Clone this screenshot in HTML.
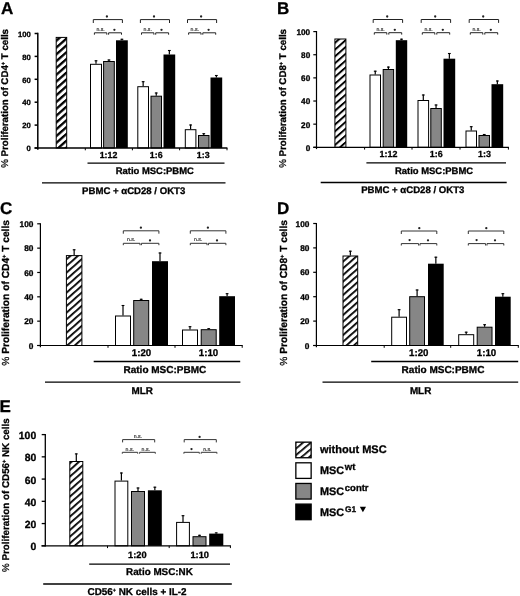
<!DOCTYPE html>
<html><head><meta charset="utf-8"><title>Figure</title>
<style>
html,body{margin:0;padding:0;background:#fff;}
body{width:520px;height:596px;overflow:hidden;font-family:"Liberation Sans",sans-serif;}
svg{display:block;filter:grayscale(1)}
svg text{font-family:"Liberation Sans",sans-serif;text-rendering:geometricPrecision;}
</style></head>
<body>
<svg width="520" height="596" viewBox="0 0 520 596">
<defs>
<pattern id="hA" width="5.1" height="5.1" patternUnits="userSpaceOnUse" patternTransform="translate(56 39.5) rotate(-41.5)">
<rect width="5.1" height="5.1" fill="#fff"/><rect y="0" width="5.1" height="2.3" fill="#000"/>
</pattern>
<pattern id="hL" width="5" height="5" patternUnits="userSpaceOnUse" patternTransform="translate(295.56 447.79) rotate(-40)">
<rect width="5" height="5" fill="#fff"/><rect y="0" width="5" height="1.7" fill="#000"/>
</pattern>
<pattern id="hA2" width="5.1" height="5.1" patternUnits="userSpaceOnUse" patternTransform="translate(334.37 48.89) rotate(-41.5)">
<rect width="5.1" height="5.1" fill="#fff"/><rect y="0" width="5.1" height="1.95" fill="#000"/>
</pattern>
<pattern id="hB" width="5" height="5" patternUnits="userSpaceOnUse" patternTransform="translate(66 258.5) rotate(-41.5)">
<rect width="5" height="5" fill="#fff"/><rect y="0" width="5" height="1.8" fill="#000"/>
</pattern>
</defs>
<rect width="520" height="596" fill="#fff"/>
<line x1="37.80" y1="32.75" x2="37.80" y2="149.80" stroke="#000" stroke-width="1.5"/>
<line x1="34.60" y1="148.00" x2="37.80" y2="148.00" stroke="#000" stroke-width="1.5"/>
<text x="30.90" y="151.26" font-size="7.7" text-anchor="end" font-weight="bold" fill="#000"  stroke="#000" stroke-width="0.3">0</text>
<line x1="34.60" y1="125.10" x2="37.80" y2="125.10" stroke="#000" stroke-width="1.5"/>
<text x="30.90" y="128.36" font-size="7.7" text-anchor="end" font-weight="bold" fill="#000"  stroke="#000" stroke-width="0.3">20</text>
<line x1="34.60" y1="102.20" x2="37.80" y2="102.20" stroke="#000" stroke-width="1.5"/>
<text x="30.90" y="105.46" font-size="7.7" text-anchor="end" font-weight="bold" fill="#000"  stroke="#000" stroke-width="0.3">40</text>
<line x1="34.60" y1="79.30" x2="37.80" y2="79.30" stroke="#000" stroke-width="1.5"/>
<text x="30.90" y="82.56" font-size="7.7" text-anchor="end" font-weight="bold" fill="#000"  stroke="#000" stroke-width="0.3">60</text>
<line x1="34.60" y1="56.40" x2="37.80" y2="56.40" stroke="#000" stroke-width="1.5"/>
<text x="30.90" y="59.66" font-size="7.7" text-anchor="end" font-weight="bold" fill="#000"  stroke="#000" stroke-width="0.3">80</text>
<line x1="34.60" y1="33.50" x2="37.80" y2="33.50" stroke="#000" stroke-width="1.5"/>
<text x="30.90" y="36.76" font-size="7.7" text-anchor="end" font-weight="bold" fill="#000"  stroke="#000" stroke-width="0.3">100</text>
<rect x="56.20" y="37.40" width="10.50" height="110.60" fill="url(#hA)" stroke="#000" stroke-width="1"/>
<rect x="90.50" y="64.30" width="11.00" height="83.70" fill="#fff" stroke="#000" stroke-width="1"/>
<line x1="96.00" y1="63.80" x2="96.00" y2="60.30" stroke="#000" stroke-width="1.2"/>
<line x1="94.60" y1="60.80" x2="97.40" y2="60.80" stroke="#000" stroke-width="1.1"/>
<rect x="103.60" y="61.50" width="10.70" height="86.50" fill="#868686" stroke="#000" stroke-width="1"/>
<line x1="108.95" y1="61.00" x2="108.95" y2="59.50" stroke="#000" stroke-width="1.2"/>
<line x1="107.55" y1="60.00" x2="110.35" y2="60.00" stroke="#000" stroke-width="1.1"/>
<rect x="116.00" y="40.30" width="11.80" height="107.70" fill="#000"/>
<line x1="121.90" y1="40.30" x2="121.90" y2="38.80" stroke="#000" stroke-width="1.2"/>
<line x1="120.50" y1="39.30" x2="123.30" y2="39.30" stroke="#000" stroke-width="1.1"/>
<rect x="137.80" y="86.70" width="10.70" height="61.30" fill="#fff" stroke="#000" stroke-width="1"/>
<line x1="143.15" y1="86.20" x2="143.15" y2="81.20" stroke="#000" stroke-width="1.2"/>
<line x1="141.75" y1="81.70" x2="144.55" y2="81.70" stroke="#000" stroke-width="1.1"/>
<rect x="151.00" y="96.20" width="10.50" height="51.80" fill="#868686" stroke="#000" stroke-width="1"/>
<line x1="156.25" y1="95.70" x2="156.25" y2="92.50" stroke="#000" stroke-width="1.2"/>
<line x1="154.85" y1="93.00" x2="157.65" y2="93.00" stroke="#000" stroke-width="1.1"/>
<rect x="163.50" y="54.50" width="11.70" height="93.50" fill="#000"/>
<line x1="169.35" y1="54.50" x2="169.35" y2="50.00" stroke="#000" stroke-width="1.2"/>
<line x1="167.95" y1="50.50" x2="170.75" y2="50.50" stroke="#000" stroke-width="1.1"/>
<rect x="185.30" y="129.70" width="10.60" height="18.30" fill="#fff" stroke="#000" stroke-width="1"/>
<line x1="190.60" y1="129.20" x2="190.60" y2="124.50" stroke="#000" stroke-width="1.2"/>
<line x1="189.20" y1="125.00" x2="192.00" y2="125.00" stroke="#000" stroke-width="1.1"/>
<rect x="198.50" y="135.50" width="10.50" height="12.50" fill="#868686" stroke="#000" stroke-width="1"/>
<line x1="203.75" y1="135.00" x2="203.75" y2="133.20" stroke="#000" stroke-width="1.2"/>
<line x1="202.35" y1="133.70" x2="205.15" y2="133.70" stroke="#000" stroke-width="1.1"/>
<rect x="210.50" y="77.50" width="11.70" height="70.50" fill="#000"/>
<line x1="216.35" y1="77.50" x2="216.35" y2="75.00" stroke="#000" stroke-width="1.2"/>
<line x1="214.95" y1="75.50" x2="217.75" y2="75.50" stroke="#000" stroke-width="1.1"/>
<line x1="34.60" y1="148.00" x2="227.40" y2="148.00" stroke="#000" stroke-width="1.5"/>
<line x1="85.30" y1="148.00" x2="85.30" y2="150.30" stroke="#000" stroke-width="1.0"/>
<line x1="132.40" y1="148.00" x2="132.40" y2="150.30" stroke="#000" stroke-width="1.0"/>
<line x1="179.60" y1="148.00" x2="179.60" y2="150.30" stroke="#000" stroke-width="1.0"/>
<line x1="227.00" y1="148.00" x2="227.00" y2="150.30" stroke="#000" stroke-width="1.0"/>
<text x="108.50" y="157.80" font-size="8.8" text-anchor="middle" font-weight="bold" fill="#000"  stroke="#000" stroke-width="0.3">1:12</text>
<text x="156.20" y="157.80" font-size="8.8" text-anchor="middle" font-weight="bold" fill="#000"  stroke="#000" stroke-width="0.3">1:6</text>
<text x="203.20" y="157.80" font-size="8.8" text-anchor="middle" font-weight="bold" fill="#000"  stroke="#000" stroke-width="0.3">1:3</text>
<line x1="87.50" y1="163.10" x2="224.50" y2="163.10" stroke="#000" stroke-width="1.3"/>
<text x="154.80" y="173.80" font-size="9.45" text-anchor="middle" font-weight="bold" fill="#000"  stroke="#000" stroke-width="0.3">Ratio MSC:PBMC</text>
<line x1="42.00" y1="182.90" x2="225.50" y2="182.90" stroke="#000" stroke-width="1.3"/>
<text x="133.70" y="193.80" font-size="9.6" text-anchor="middle" font-weight="bold" fill="#000"  stroke="#000" stroke-width="0.3">PBMC + αCD28 / OKT3</text>
<text x="0.90" y="14.40" font-size="17" font-weight="bold" stroke="#000" stroke-width="0.3" stroke-linejoin="round">A</text>
<text transform="translate(7.90,167.80) rotate(-90)" font-size="9.72" font-weight="bold" text-anchor="start" stroke="#000" stroke-width="0.3"><tspan font-weight="normal" stroke-width="0.25">%</tspan> Proliferation of CD4<tspan font-size="5.5" dy="-3">+</tspan><tspan dy="3"> T cells</tspan></text>
<path d="M93.30 23.00 V19.60 H122.40 V23.00" fill="none" stroke="#222" stroke-width="1.0"/>
<circle cx="106.90" cy="16.50" r="1.15" fill="#222"/>
<path d="M94.40 34.70 V32.80 H106.80 V34.70" fill="none" stroke="#222" stroke-width="1.0"/>
<path d="M108.60 34.70 V32.80 H121.50 V34.70" fill="none" stroke="#222" stroke-width="1.0"/>
<text x="100.60" y="30.60" font-size="5.2" text-anchor="middle" font-weight="normal" fill="#222" stroke="#222" stroke-width="0.15">n.s.</text>
<circle cx="114.40" cy="29.80" r="1.15" fill="#222"/>
<path d="M140.40 23.00 V19.60 H169.50 V23.00" fill="none" stroke="#222" stroke-width="1.0"/>
<circle cx="154.00" cy="16.50" r="1.15" fill="#222"/>
<path d="M141.50 34.70 V32.80 H153.90 V34.70" fill="none" stroke="#222" stroke-width="1.0"/>
<path d="M155.70 34.70 V32.80 H168.60 V34.70" fill="none" stroke="#222" stroke-width="1.0"/>
<text x="147.70" y="30.60" font-size="5.2" text-anchor="middle" font-weight="normal" fill="#222" stroke="#222" stroke-width="0.15">n.s.</text>
<circle cx="161.50" cy="29.80" r="1.15" fill="#222"/>
<path d="M187.50 23.00 V19.60 H216.60 V23.00" fill="none" stroke="#222" stroke-width="1.0"/>
<circle cx="201.10" cy="16.50" r="1.15" fill="#222"/>
<path d="M188.60 34.70 V32.80 H201.00 V34.70" fill="none" stroke="#222" stroke-width="1.0"/>
<path d="M202.80 34.70 V32.80 H215.70 V34.70" fill="none" stroke="#222" stroke-width="1.0"/>
<text x="194.80" y="30.60" font-size="5.2" text-anchor="middle" font-weight="normal" fill="#222" stroke="#222" stroke-width="0.15">n.s.</text>
<circle cx="208.60" cy="29.80" r="1.15" fill="#222"/>
<line x1="316.50" y1="31.00" x2="316.50" y2="149.10" stroke="#000" stroke-width="1.2"/>
<line x1="313.30" y1="147.30" x2="316.50" y2="147.30" stroke="#000" stroke-width="1.2"/>
<text x="310.20" y="150.74" font-size="8.2" text-anchor="end" font-weight="bold" fill="#000"  stroke="#000" stroke-width="0.3">0</text>
<line x1="313.30" y1="124.16" x2="316.50" y2="124.16" stroke="#000" stroke-width="1.2"/>
<text x="310.20" y="127.60" font-size="8.2" text-anchor="end" font-weight="bold" fill="#000"  stroke="#000" stroke-width="0.3">20</text>
<line x1="313.30" y1="101.02" x2="316.50" y2="101.02" stroke="#000" stroke-width="1.2"/>
<text x="310.20" y="104.46" font-size="8.2" text-anchor="end" font-weight="bold" fill="#000"  stroke="#000" stroke-width="0.3">40</text>
<line x1="313.30" y1="77.88" x2="316.50" y2="77.88" stroke="#000" stroke-width="1.2"/>
<text x="310.20" y="81.32" font-size="8.2" text-anchor="end" font-weight="bold" fill="#000"  stroke="#000" stroke-width="0.3">60</text>
<line x1="313.30" y1="54.74" x2="316.50" y2="54.74" stroke="#000" stroke-width="1.2"/>
<text x="310.20" y="58.18" font-size="8.2" text-anchor="end" font-weight="bold" fill="#000"  stroke="#000" stroke-width="0.3">80</text>
<line x1="313.30" y1="31.60" x2="316.50" y2="31.60" stroke="#000" stroke-width="1.2"/>
<text x="310.20" y="35.04" font-size="8.2" text-anchor="end" font-weight="bold" fill="#000"  stroke="#000" stroke-width="0.3">100</text>
<rect x="334.90" y="39.00" width="11.00" height="108.30" fill="url(#hA2)" stroke="#000" stroke-width="1"/>
<rect x="370.00" y="75.00" width="10.50" height="72.30" fill="#fff" stroke="#000" stroke-width="1"/>
<line x1="375.25" y1="74.50" x2="375.25" y2="70.70" stroke="#000" stroke-width="1.2"/>
<line x1="373.85" y1="71.20" x2="376.65" y2="71.20" stroke="#000" stroke-width="1.1"/>
<rect x="383.20" y="69.50" width="10.40" height="77.80" fill="#868686" stroke="#000" stroke-width="1"/>
<line x1="388.40" y1="69.00" x2="388.40" y2="66.60" stroke="#000" stroke-width="1.2"/>
<line x1="387.00" y1="67.10" x2="389.80" y2="67.10" stroke="#000" stroke-width="1.1"/>
<rect x="395.80" y="40.20" width="11.40" height="107.10" fill="#000"/>
<line x1="401.50" y1="40.20" x2="401.50" y2="38.70" stroke="#000" stroke-width="1.2"/>
<line x1="400.10" y1="39.20" x2="402.90" y2="39.20" stroke="#000" stroke-width="1.1"/>
<rect x="418.00" y="100.50" width="10.60" height="46.80" fill="#fff" stroke="#000" stroke-width="1"/>
<line x1="423.30" y1="100.00" x2="423.30" y2="94.50" stroke="#000" stroke-width="1.2"/>
<line x1="421.90" y1="95.00" x2="424.70" y2="95.00" stroke="#000" stroke-width="1.1"/>
<rect x="430.80" y="108.50" width="10.50" height="38.80" fill="#868686" stroke="#000" stroke-width="1"/>
<line x1="436.05" y1="108.00" x2="436.05" y2="104.50" stroke="#000" stroke-width="1.2"/>
<line x1="434.65" y1="105.00" x2="437.45" y2="105.00" stroke="#000" stroke-width="1.1"/>
<rect x="443.50" y="58.70" width="11.70" height="88.60" fill="#000"/>
<line x1="449.35" y1="58.70" x2="449.35" y2="53.00" stroke="#000" stroke-width="1.2"/>
<line x1="447.95" y1="53.50" x2="450.75" y2="53.50" stroke="#000" stroke-width="1.1"/>
<rect x="466.00" y="131.00" width="10.50" height="16.30" fill="#fff" stroke="#000" stroke-width="1"/>
<line x1="471.25" y1="130.50" x2="471.25" y2="126.20" stroke="#000" stroke-width="1.2"/>
<line x1="469.85" y1="126.70" x2="472.65" y2="126.70" stroke="#000" stroke-width="1.1"/>
<rect x="479.00" y="135.50" width="10.50" height="11.80" fill="#868686" stroke="#000" stroke-width="1"/>
<line x1="484.25" y1="135.00" x2="484.25" y2="134.00" stroke="#000" stroke-width="1.2"/>
<line x1="482.85" y1="134.50" x2="485.65" y2="134.50" stroke="#000" stroke-width="1.1"/>
<rect x="491.50" y="84.20" width="11.70" height="63.10" fill="#000"/>
<line x1="497.35" y1="84.20" x2="497.35" y2="80.50" stroke="#000" stroke-width="1.2"/>
<line x1="495.95" y1="81.00" x2="498.75" y2="81.00" stroke="#000" stroke-width="1.1"/>
<line x1="313.30" y1="147.30" x2="508.90" y2="147.30" stroke="#000" stroke-width="1.2"/>
<line x1="364.60" y1="147.30" x2="364.60" y2="149.60" stroke="#000" stroke-width="1.0"/>
<line x1="412.00" y1="147.30" x2="412.00" y2="149.60" stroke="#000" stroke-width="1.0"/>
<line x1="460.00" y1="147.30" x2="460.00" y2="149.60" stroke="#000" stroke-width="1.0"/>
<line x1="508.40" y1="147.30" x2="508.40" y2="149.60" stroke="#000" stroke-width="1.0"/>
<text x="388.50" y="156.90" font-size="8.9" text-anchor="middle" font-weight="bold" fill="#000"  stroke="#000" stroke-width="0.3">1:12</text>
<text x="436.20" y="156.90" font-size="8.9" text-anchor="middle" font-weight="bold" fill="#000"  stroke="#000" stroke-width="0.3">1:6</text>
<text x="484.50" y="156.90" font-size="8.9" text-anchor="middle" font-weight="bold" fill="#000"  stroke="#000" stroke-width="0.3">1:3</text>
<line x1="366.40" y1="162.90" x2="506.00" y2="162.90" stroke="#000" stroke-width="1.3"/>
<text x="434.00" y="173.50" font-size="9.45" text-anchor="middle" font-weight="bold" fill="#000"  stroke="#000" stroke-width="0.3">Ratio MSC:PBMC</text>
<line x1="320.70" y1="182.50" x2="506.70" y2="182.50" stroke="#000" stroke-width="1.3"/>
<text x="412.80" y="193.20" font-size="9.6" text-anchor="middle" font-weight="bold" fill="#000"  stroke="#000" stroke-width="0.3">PBMC + αCD28 / OKT3</text>
<text x="277.10" y="14.40" font-size="17" font-weight="bold" stroke="#000" stroke-width="0.3" stroke-linejoin="round">B</text>
<text transform="translate(286.10,167.80) rotate(-90)" font-size="9.72" font-weight="bold" text-anchor="start" stroke="#000" stroke-width="0.3"><tspan font-weight="normal" stroke-width="0.25">%</tspan> Proliferation of CD8<tspan font-size="5.5" dy="-3">+</tspan><tspan dy="3"> T cells</tspan></text>
<path d="M373.20 22.90 V19.50 H402.60 V22.90" fill="none" stroke="#222" stroke-width="1.0"/>
<circle cx="387.20" cy="16.50" r="1.15" fill="#222"/>
<path d="M374.30 34.60 V32.70 H386.80 V34.60" fill="none" stroke="#222" stroke-width="1.0"/>
<path d="M388.80 34.60 V32.70 H401.70 V34.60" fill="none" stroke="#222" stroke-width="1.0"/>
<text x="380.60" y="30.60" font-size="5.2" text-anchor="middle" font-weight="normal" fill="#222" stroke="#222" stroke-width="0.15">n.s.</text>
<circle cx="394.80" cy="29.80" r="1.15" fill="#222"/>
<path d="M421.20 22.90 V19.50 H450.60 V22.90" fill="none" stroke="#222" stroke-width="1.0"/>
<circle cx="435.20" cy="16.50" r="1.15" fill="#222"/>
<path d="M422.30 34.60 V32.70 H434.80 V34.60" fill="none" stroke="#222" stroke-width="1.0"/>
<path d="M436.80 34.60 V32.70 H449.70 V34.60" fill="none" stroke="#222" stroke-width="1.0"/>
<text x="428.60" y="30.60" font-size="5.2" text-anchor="middle" font-weight="normal" fill="#222" stroke="#222" stroke-width="0.15">n.s.</text>
<circle cx="442.80" cy="29.80" r="1.15" fill="#222"/>
<path d="M469.20 22.90 V19.50 H498.60 V22.90" fill="none" stroke="#222" stroke-width="1.0"/>
<circle cx="483.20" cy="16.50" r="1.15" fill="#222"/>
<path d="M470.30 34.60 V32.70 H482.80 V34.60" fill="none" stroke="#222" stroke-width="1.0"/>
<path d="M484.80 34.60 V32.70 H497.70 V34.60" fill="none" stroke="#222" stroke-width="1.0"/>
<text x="476.60" y="30.60" font-size="5.2" text-anchor="middle" font-weight="normal" fill="#222" stroke="#222" stroke-width="0.15">n.s.</text>
<circle cx="490.80" cy="29.80" r="1.15" fill="#222"/>
<line x1="40.40" y1="223.20" x2="40.40" y2="347.30" stroke="#000" stroke-width="1.2"/>
<line x1="37.20" y1="345.50" x2="40.40" y2="345.50" stroke="#000" stroke-width="1.2"/>
<text x="33.40" y="348.67" font-size="8.3" text-anchor="end" font-weight="bold" fill="#000"  stroke="#000" stroke-width="0.3">0</text>
<line x1="37.20" y1="321.16" x2="40.40" y2="321.16" stroke="#000" stroke-width="1.2"/>
<text x="33.40" y="324.33" font-size="8.3" text-anchor="end" font-weight="bold" fill="#000"  stroke="#000" stroke-width="0.3">20</text>
<line x1="37.20" y1="296.82" x2="40.40" y2="296.82" stroke="#000" stroke-width="1.2"/>
<text x="33.40" y="299.99" font-size="8.3" text-anchor="end" font-weight="bold" fill="#000"  stroke="#000" stroke-width="0.3">40</text>
<line x1="37.20" y1="272.48" x2="40.40" y2="272.48" stroke="#000" stroke-width="1.2"/>
<text x="33.40" y="275.65" font-size="8.3" text-anchor="end" font-weight="bold" fill="#000"  stroke="#000" stroke-width="0.3">60</text>
<line x1="37.20" y1="248.14" x2="40.40" y2="248.14" stroke="#000" stroke-width="1.2"/>
<text x="33.40" y="251.31" font-size="8.3" text-anchor="end" font-weight="bold" fill="#000"  stroke="#000" stroke-width="0.3">80</text>
<line x1="37.20" y1="223.80" x2="40.40" y2="223.80" stroke="#000" stroke-width="1.2"/>
<text x="33.40" y="226.97" font-size="8.3" text-anchor="end" font-weight="bold" fill="#000"  stroke="#000" stroke-width="0.3">100</text>
<rect x="66.40" y="255.60" width="15.50" height="89.90" fill="url(#hB)" stroke="#000" stroke-width="1"/>
<line x1="74.15" y1="255.10" x2="74.15" y2="249.30" stroke="#000" stroke-width="1.2"/>
<line x1="72.75" y1="249.80" x2="75.55" y2="249.80" stroke="#000" stroke-width="1.1"/>
<rect x="115.50" y="316.00" width="15.00" height="29.50" fill="#fff" stroke="#000" stroke-width="1"/>
<line x1="123.00" y1="315.50" x2="123.00" y2="305.00" stroke="#000" stroke-width="1.2"/>
<line x1="121.60" y1="305.50" x2="124.40" y2="305.50" stroke="#000" stroke-width="1.1"/>
<rect x="133.70" y="300.50" width="15.00" height="45.00" fill="#868686" stroke="#000" stroke-width="1"/>
<line x1="141.20" y1="300.00" x2="141.20" y2="298.80" stroke="#000" stroke-width="1.2"/>
<line x1="139.80" y1="299.30" x2="142.60" y2="299.30" stroke="#000" stroke-width="1.1"/>
<rect x="152.00" y="261.20" width="16.00" height="84.30" fill="#000"/>
<line x1="160.00" y1="261.20" x2="160.00" y2="252.50" stroke="#000" stroke-width="1.2"/>
<line x1="158.60" y1="253.00" x2="161.40" y2="253.00" stroke="#000" stroke-width="1.1"/>
<rect x="182.50" y="330.00" width="15.00" height="15.50" fill="#fff" stroke="#000" stroke-width="1"/>
<line x1="190.00" y1="329.50" x2="190.00" y2="326.20" stroke="#000" stroke-width="1.2"/>
<line x1="188.60" y1="326.70" x2="191.40" y2="326.70" stroke="#000" stroke-width="1.1"/>
<rect x="201.20" y="329.70" width="15.00" height="15.80" fill="#868686" stroke="#000" stroke-width="1"/>
<line x1="208.70" y1="329.20" x2="208.70" y2="328.20" stroke="#000" stroke-width="1.2"/>
<line x1="207.30" y1="328.70" x2="210.10" y2="328.70" stroke="#000" stroke-width="1.1"/>
<rect x="219.20" y="296.20" width="15.80" height="49.30" fill="#000"/>
<line x1="227.10" y1="296.20" x2="227.10" y2="293.20" stroke="#000" stroke-width="1.2"/>
<line x1="225.70" y1="293.70" x2="228.50" y2="293.70" stroke="#000" stroke-width="1.1"/>
<line x1="37.20" y1="345.50" x2="242.70" y2="345.50" stroke="#000" stroke-width="1.2"/>
<line x1="108.00" y1="345.50" x2="108.00" y2="347.80" stroke="#000" stroke-width="1.0"/>
<line x1="175.00" y1="345.50" x2="175.00" y2="347.80" stroke="#000" stroke-width="1.0"/>
<line x1="242.20" y1="345.50" x2="242.20" y2="347.80" stroke="#000" stroke-width="1.0"/>
<text x="141.50" y="355.50" font-size="9.7" text-anchor="middle" font-weight="bold" fill="#000"  stroke="#000" stroke-width="0.3">1:20</text>
<text x="208.50" y="355.50" font-size="9.7" text-anchor="middle" font-weight="bold" fill="#000"  stroke="#000" stroke-width="0.3">1:10</text>
<line x1="93.70" y1="361.50" x2="240.20" y2="361.50" stroke="#000" stroke-width="1.3"/>
<text x="164.90" y="372.70" font-size="10.0" text-anchor="middle" font-weight="bold" fill="#000"  stroke="#000" stroke-width="0.3">Ratio MSC:PBMC</text>
<line x1="45.00" y1="382.20" x2="240.40" y2="382.20" stroke="#000" stroke-width="1.3"/>
<text x="142.20" y="393.80" font-size="9.9" text-anchor="middle" font-weight="bold" fill="#000"  stroke="#000" stroke-width="0.3">MLR</text>
<text x="0.10" y="214.40" font-size="17" font-weight="bold" stroke="#000" stroke-width="0.3" stroke-linejoin="round">C</text>
<text transform="translate(8.80,365.80) rotate(-90)" font-size="10.22" font-weight="bold" text-anchor="start" stroke="#000" stroke-width="0.3"><tspan font-weight="normal" stroke-width="0.25">%</tspan> Proliferation of CD4<tspan font-size="5.5" dy="-3">+</tspan><tspan dy="3"> T cells</tspan></text>
<path d="M190.30 233.70 V230.80 H225.90 V233.70" fill="none" stroke="#333" stroke-width="1.0"/>
<circle cx="207.90" cy="227.70" r="1.15" fill="#222"/>
<path d="M190.30 245.20 V243.30 H207.00 V245.20" fill="none" stroke="#333" stroke-width="1.0"/>
<path d="M208.40 245.20 V243.30 H225.90 V245.20" fill="none" stroke="#333" stroke-width="1.0"/>
<text x="198.20" y="241.20" font-size="5.2" text-anchor="middle" font-weight="normal" fill="#222" stroke="#222" stroke-width="0.15">n.s.</text>
<circle cx="217.00" cy="240.40" r="1.15" fill="#222"/>
<path d="M123.30 233.70 V230.80 H158.90 V233.70" fill="none" stroke="#333" stroke-width="1.0"/>
<circle cx="140.90" cy="227.70" r="1.15" fill="#222"/>
<path d="M123.30 245.20 V243.30 H140.00 V245.20" fill="none" stroke="#333" stroke-width="1.0"/>
<path d="M141.40 245.20 V243.30 H158.90 V245.20" fill="none" stroke="#333" stroke-width="1.0"/>
<text x="131.20" y="241.20" font-size="5.2" text-anchor="middle" font-weight="normal" fill="#222" stroke="#222" stroke-width="0.15">n.s.</text>
<circle cx="150.00" cy="240.40" r="1.15" fill="#222"/>
<line x1="316.40" y1="222.90" x2="316.40" y2="347.30" stroke="#000" stroke-width="1.2"/>
<line x1="313.20" y1="345.50" x2="316.40" y2="345.50" stroke="#000" stroke-width="1.2"/>
<text x="309.40" y="348.67" font-size="8.3" text-anchor="end" font-weight="bold" fill="#000"  stroke="#000" stroke-width="0.3">0</text>
<line x1="313.20" y1="321.10" x2="316.40" y2="321.10" stroke="#000" stroke-width="1.2"/>
<text x="309.40" y="324.27" font-size="8.3" text-anchor="end" font-weight="bold" fill="#000"  stroke="#000" stroke-width="0.3">20</text>
<line x1="313.20" y1="296.70" x2="316.40" y2="296.70" stroke="#000" stroke-width="1.2"/>
<text x="309.40" y="299.87" font-size="8.3" text-anchor="end" font-weight="bold" fill="#000"  stroke="#000" stroke-width="0.3">40</text>
<line x1="313.20" y1="272.30" x2="316.40" y2="272.30" stroke="#000" stroke-width="1.2"/>
<text x="309.40" y="275.47" font-size="8.3" text-anchor="end" font-weight="bold" fill="#000"  stroke="#000" stroke-width="0.3">60</text>
<line x1="313.20" y1="247.90" x2="316.40" y2="247.90" stroke="#000" stroke-width="1.2"/>
<text x="309.40" y="251.07" font-size="8.3" text-anchor="end" font-weight="bold" fill="#000"  stroke="#000" stroke-width="0.3">80</text>
<line x1="313.20" y1="223.50" x2="316.40" y2="223.50" stroke="#000" stroke-width="1.2"/>
<text x="309.40" y="226.67" font-size="8.3" text-anchor="end" font-weight="bold" fill="#000"  stroke="#000" stroke-width="0.3">100</text>
<rect x="343.00" y="256.00" width="14.70" height="89.50" fill="url(#hB)" stroke="#000" stroke-width="1"/>
<line x1="350.35" y1="255.50" x2="350.35" y2="250.70" stroke="#000" stroke-width="1.2"/>
<line x1="348.95" y1="251.20" x2="351.75" y2="251.20" stroke="#000" stroke-width="1.1"/>
<rect x="391.70" y="317.20" width="14.80" height="28.30" fill="#fff" stroke="#000" stroke-width="1"/>
<line x1="399.10" y1="316.70" x2="399.10" y2="309.20" stroke="#000" stroke-width="1.2"/>
<line x1="397.70" y1="309.70" x2="400.50" y2="309.70" stroke="#000" stroke-width="1.1"/>
<rect x="409.70" y="296.70" width="14.80" height="48.80" fill="#868686" stroke="#000" stroke-width="1"/>
<line x1="417.10" y1="296.20" x2="417.10" y2="289.50" stroke="#000" stroke-width="1.2"/>
<line x1="415.70" y1="290.00" x2="418.50" y2="290.00" stroke="#000" stroke-width="1.1"/>
<rect x="428.00" y="263.70" width="15.70" height="81.80" fill="#000"/>
<line x1="435.85" y1="263.70" x2="435.85" y2="256.70" stroke="#000" stroke-width="1.2"/>
<line x1="434.45" y1="257.20" x2="437.25" y2="257.20" stroke="#000" stroke-width="1.1"/>
<rect x="458.70" y="334.70" width="15.00" height="10.80" fill="#fff" stroke="#000" stroke-width="1"/>
<line x1="466.20" y1="334.20" x2="466.20" y2="331.70" stroke="#000" stroke-width="1.2"/>
<line x1="464.80" y1="332.20" x2="467.60" y2="332.20" stroke="#000" stroke-width="1.1"/>
<rect x="477.20" y="327.20" width="14.80" height="18.30" fill="#868686" stroke="#000" stroke-width="1"/>
<line x1="484.60" y1="326.70" x2="484.60" y2="324.20" stroke="#000" stroke-width="1.2"/>
<line x1="483.20" y1="324.70" x2="486.00" y2="324.70" stroke="#000" stroke-width="1.1"/>
<rect x="495.00" y="296.70" width="15.70" height="48.80" fill="#000"/>
<line x1="502.85" y1="296.70" x2="502.85" y2="293.20" stroke="#000" stroke-width="1.2"/>
<line x1="501.45" y1="293.70" x2="504.25" y2="293.70" stroke="#000" stroke-width="1.1"/>
<line x1="313.20" y1="345.50" x2="518.80" y2="345.50" stroke="#000" stroke-width="1.2"/>
<line x1="384.20" y1="345.50" x2="384.20" y2="347.80" stroke="#000" stroke-width="1.0"/>
<line x1="450.70" y1="345.50" x2="450.70" y2="347.80" stroke="#000" stroke-width="1.0"/>
<line x1="518.30" y1="345.50" x2="518.30" y2="347.80" stroke="#000" stroke-width="1.0"/>
<text x="418.80" y="355.50" font-size="9.7" text-anchor="middle" font-weight="bold" fill="#000"  stroke="#000" stroke-width="0.3">1:20</text>
<text x="486.50" y="355.50" font-size="9.7" text-anchor="middle" font-weight="bold" fill="#000"  stroke="#000" stroke-width="0.3">1:10</text>
<line x1="371.20" y1="361.50" x2="518.20" y2="361.50" stroke="#000" stroke-width="1.3"/>
<text x="443.00" y="372.70" font-size="10.0" text-anchor="middle" font-weight="bold" fill="#000"  stroke="#000" stroke-width="0.3">Ratio MSC:PBMC</text>
<line x1="322.50" y1="382.20" x2="518.20" y2="382.20" stroke="#000" stroke-width="1.3"/>
<text x="420.60" y="393.80" font-size="9.9" text-anchor="middle" font-weight="bold" fill="#000"  stroke="#000" stroke-width="0.3">MLR</text>
<text x="276.90" y="214.00" font-size="17" font-weight="bold" stroke="#000" stroke-width="0.3" stroke-linejoin="round">D</text>
<text transform="translate(287.00,365.80) rotate(-90)" font-size="10.22" font-weight="bold" text-anchor="start" stroke="#000" stroke-width="0.3"><tspan font-weight="normal" stroke-width="0.25">%</tspan> Proliferation of CD8<tspan font-size="5.5" dy="-3">+</tspan><tspan dy="3"> T cells</tspan></text>
<path d="M401.30 234.00 V231.00 H436.80 V234.00" fill="none" stroke="#333" stroke-width="1.0"/>
<circle cx="419.30" cy="228.20" r="1.15" fill="#222"/>
<path d="M401.30 245.50 V243.60 H418.60 V245.50" fill="none" stroke="#333" stroke-width="1.0"/>
<path d="M420.00 245.50 V243.60 H436.80 V245.50" fill="none" stroke="#333" stroke-width="1.0"/>
<circle cx="409.60" cy="240.10" r="1.15" fill="#222"/>
<circle cx="428.00" cy="240.30" r="1.15" fill="#222"/>
<path d="M468.30 234.00 V231.00 H503.80 V234.00" fill="none" stroke="#333" stroke-width="1.0"/>
<circle cx="486.30" cy="228.20" r="1.15" fill="#222"/>
<path d="M468.30 245.50 V243.60 H485.60 V245.50" fill="none" stroke="#333" stroke-width="1.0"/>
<path d="M487.00 245.50 V243.60 H503.80 V245.50" fill="none" stroke="#333" stroke-width="1.0"/>
<circle cx="476.60" cy="240.10" r="1.15" fill="#222"/>
<circle cx="495.00" cy="240.30" r="1.15" fill="#222"/>
<line x1="45.30" y1="433.95" x2="45.30" y2="546.40" stroke="#000" stroke-width="1.3"/>
<line x1="41.70" y1="545.80" x2="45.30" y2="545.80" stroke="#000" stroke-width="1.3"/>
<text x="36.20" y="550.32" font-size="10.4" text-anchor="end" font-weight="bold" fill="#000"  stroke="#000" stroke-width="0.3">0</text>
<line x1="41.70" y1="523.56" x2="45.30" y2="523.56" stroke="#000" stroke-width="1.3"/>
<text x="36.20" y="528.08" font-size="10.4" text-anchor="end" font-weight="bold" fill="#000"  stroke="#000" stroke-width="0.3">20</text>
<line x1="41.70" y1="501.32" x2="45.30" y2="501.32" stroke="#000" stroke-width="1.3"/>
<text x="36.20" y="505.84" font-size="10.4" text-anchor="end" font-weight="bold" fill="#000"  stroke="#000" stroke-width="0.3">40</text>
<line x1="41.70" y1="479.08" x2="45.30" y2="479.08" stroke="#000" stroke-width="1.3"/>
<text x="36.20" y="483.60" font-size="10.4" text-anchor="end" font-weight="bold" fill="#000"  stroke="#000" stroke-width="0.3">60</text>
<line x1="41.70" y1="456.84" x2="45.30" y2="456.84" stroke="#000" stroke-width="1.3"/>
<text x="36.20" y="461.36" font-size="10.4" text-anchor="end" font-weight="bold" fill="#000"  stroke="#000" stroke-width="0.3">80</text>
<line x1="41.70" y1="434.60" x2="45.30" y2="434.60" stroke="#000" stroke-width="1.3"/>
<text x="36.20" y="439.12" font-size="10.4" text-anchor="end" font-weight="bold" fill="#000"  stroke="#000" stroke-width="0.3">100</text>
<rect x="69.80" y="461.50" width="13.00" height="84.30" fill="url(#hB)" stroke="#000" stroke-width="1"/>
<line x1="76.30" y1="461.00" x2="76.30" y2="453.40" stroke="#000" stroke-width="1.2"/>
<line x1="74.90" y1="453.90" x2="77.70" y2="453.90" stroke="#000" stroke-width="1.1"/>
<rect x="115.00" y="481.10" width="12.80" height="64.70" fill="#fff" stroke="#000" stroke-width="1"/>
<line x1="121.40" y1="480.60" x2="121.40" y2="472.50" stroke="#000" stroke-width="1.2"/>
<line x1="120.00" y1="473.00" x2="122.80" y2="473.00" stroke="#000" stroke-width="1.1"/>
<rect x="131.50" y="491.50" width="13.00" height="54.30" fill="#868686" stroke="#000" stroke-width="1"/>
<line x1="138.00" y1="491.00" x2="138.00" y2="487.50" stroke="#000" stroke-width="1.2"/>
<line x1="136.60" y1="488.00" x2="139.40" y2="488.00" stroke="#000" stroke-width="1.1"/>
<rect x="147.90" y="490.30" width="13.90" height="55.50" fill="#000"/>
<line x1="154.85" y1="490.30" x2="154.85" y2="486.70" stroke="#000" stroke-width="1.2"/>
<line x1="153.45" y1="487.20" x2="156.25" y2="487.20" stroke="#000" stroke-width="1.1"/>
<rect x="176.60" y="522.40" width="12.80" height="23.40" fill="#fff" stroke="#000" stroke-width="1"/>
<line x1="183.00" y1="521.90" x2="183.00" y2="515.20" stroke="#000" stroke-width="1.2"/>
<line x1="181.60" y1="515.70" x2="184.40" y2="515.70" stroke="#000" stroke-width="1.1"/>
<rect x="193.00" y="536.70" width="13.00" height="9.10" fill="#868686" stroke="#000" stroke-width="1"/>
<line x1="199.50" y1="536.20" x2="199.50" y2="534.80" stroke="#000" stroke-width="1.2"/>
<line x1="198.10" y1="535.30" x2="200.90" y2="535.30" stroke="#000" stroke-width="1.1"/>
<rect x="209.20" y="533.60" width="14.10" height="12.20" fill="#000"/>
<line x1="216.25" y1="533.60" x2="216.25" y2="532.40" stroke="#000" stroke-width="1.2"/>
<line x1="214.85" y1="532.90" x2="217.65" y2="532.90" stroke="#000" stroke-width="1.1"/>
<line x1="41.50" y1="545.80" x2="230.90" y2="545.80" stroke="#000" stroke-width="1.3"/>
<line x1="107.50" y1="545.80" x2="107.50" y2="548.10" stroke="#000" stroke-width="1.0"/>
<line x1="169.20" y1="545.80" x2="169.20" y2="548.10" stroke="#000" stroke-width="1.0"/>
<line x1="230.40" y1="545.80" x2="230.40" y2="548.10" stroke="#000" stroke-width="1.0"/>
<text x="137.30" y="558.40" font-size="9.25" text-anchor="middle" font-weight="bold" fill="#000"  stroke="#000" stroke-width="0.3">1:20</text>
<text x="199.70" y="558.40" font-size="9.25" text-anchor="middle" font-weight="bold" fill="#000"  stroke="#000" stroke-width="0.3">1:10</text>
<line x1="89.20" y1="564.20" x2="230.00" y2="564.20" stroke="#000" stroke-width="1.3"/>
<text x="159.40" y="574.90" font-size="9.85" text-anchor="middle" font-weight="bold" fill="#000"  stroke="#000" stroke-width="0.3">Ratio MSC:NK</text>
<line x1="43.20" y1="584.00" x2="231.80" y2="584.00" stroke="#000" stroke-width="1.3"/>
<text x="137.00" y="594.80" font-size="9.9" text-anchor="middle" font-weight="bold" fill="#000"  stroke="#000" stroke-width="0.3">CD56<tspan font-size="5.5" dy="-3">+</tspan><tspan dy="3"> NK cells + IL-2</tspan></text>
<text x="-0.40" y="412.10" font-size="17" font-weight="bold" stroke="#000" stroke-width="0.3" stroke-linejoin="round">E</text>
<text transform="translate(8.70,572.00) rotate(-90)" font-size="9.82" font-weight="bold" text-anchor="start" stroke="#000" stroke-width="0.3"><tspan font-weight="normal" stroke-width="0.25">%</tspan> Proliferation of CD56<tspan font-size="5.5" dy="-3">+</tspan><tspan dy="3"> NK cells</tspan></text>
<path d="M122.60 442.40 V439.60 H154.70 V442.40" fill="none" stroke="#333" stroke-width="1.0"/>
<path d="M122.30 453.70 V452.30 H137.70 V453.70" fill="none" stroke="#333" stroke-width="1.0"/>
<path d="M139.60 453.70 V452.30 H155.30 V453.70" fill="none" stroke="#333" stroke-width="1.0"/>
<path d="M184.20 442.40 V439.60 H216.30 V442.40" fill="none" stroke="#333" stroke-width="1.0"/>
<path d="M183.90 453.70 V452.30 H199.30 V453.70" fill="none" stroke="#333" stroke-width="1.0"/>
<path d="M201.20 453.70 V452.30 H216.90 V453.70" fill="none" stroke="#333" stroke-width="1.0"/>
<circle cx="199.60" cy="436.90" r="1.15" fill="#222"/>
<circle cx="191.50" cy="449.10" r="1.15" fill="#222"/>
<text x="207.40" y="450.70" font-size="5.2" text-anchor="middle" font-weight="normal" fill="#222" stroke="#222" stroke-width="0.15">n.s.</text>
<text x="137.90" y="438.20" font-size="5.2" text-anchor="middle" font-weight="normal" fill="#222" stroke="#222" stroke-width="0.15">n.s.</text>
<text x="129.80" y="450.70" font-size="5.2" text-anchor="middle" font-weight="normal" fill="#222" stroke="#222" stroke-width="0.15">n.s.</text>
<text x="145.80" y="450.70" font-size="5.2" text-anchor="middle" font-weight="normal" fill="#222" stroke="#222" stroke-width="0.15">n.s.</text>
<rect x="295.85" y="442.15" width="15.3" height="15.6" fill="url(#hL)" stroke="#000" stroke-width="1.3"/>
<rect x="295.85" y="462.80" width="15.3" height="15.6" fill="#fff" stroke="#000" stroke-width="1.3"/>
<rect x="295.85" y="483.45" width="15.3" height="15.6" fill="#868686" stroke="#000" stroke-width="1.3"/>
<rect x="295.85" y="504.10" width="15.3" height="15.6" fill="#000" stroke="#000" stroke-width="1.3"/>
<text x="320.00" y="452.80" font-size="11" text-anchor="start" font-weight="bold" fill="#000"  stroke="#000" stroke-width="0.3">without MSC</text>
<text x="320.00" y="473.80" font-size="10.9" text-anchor="start" font-weight="bold" fill="#000"  stroke="#000" stroke-width="0.3">MSC<tspan font-size="9.5" dy="-3.9" dx="0.6">wt</tspan></text>
<text x="320.00" y="495.30" font-size="10.9" text-anchor="start" font-weight="bold" fill="#000"  stroke="#000" stroke-width="0.3">MSC<tspan font-size="9.5" dy="-4.4" dx="0.6">contr</tspan></text>
<text x="320.00" y="516.30" font-size="10.9" text-anchor="start" font-weight="bold" fill="#000"  stroke="#000" stroke-width="0.3">MSC<tspan font-size="8.3" dy="-4.3" dx="0.8">G1</tspan></text>
<path d="M359.8 506.8 h6.2 l-3.1 5.4z" fill="#000"/>
</svg>
</body></html>
